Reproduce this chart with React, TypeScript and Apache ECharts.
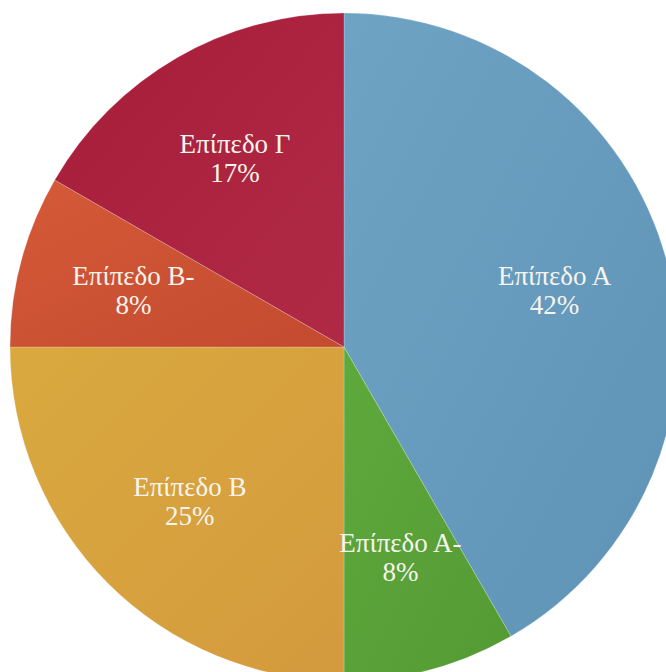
import React, { useEffect, useRef } from "react";
import * as echarts from "echarts";

const categories = ["Επίπεδο Α", "Επίπεδο Α-", "Επίπεδο Β", "Επίπεδο Β-", "Επίπεδο Γ"];
const values = [5, 1, 3, 1, 2];
const colorsTop = ["#6fa3c4", "#5ea93c", "#d9a93e", "#d45a38", "#a71d3a"];
const colorsBottom = ["#5f93b6", "#549a34", "#d49a3e", "#c44a30", "#b02a46"];

export default function App() {
  const ref = useRef<HTMLDivElement>(null);
  useEffect(() => {
    if (!ref.current) return;
    const chart = echarts.init(ref.current, undefined, { renderer: "svg" });
    const data = categories.map((name, i) => ({
      name,
      value: values[i],
      itemStyle: {
        color: new echarts.graphic.LinearGradient(0, 0, 1, 1, [
          { offset: 0, color: colorsTop[i] },
          { offset: 1, color: colorsBottom[i] },
        ]),
      },
    }));
    const labelData = categories.map((name, i) => ({ name, value: values[i] }));
    chart.setOption({
      animation: false,
      backgroundColor: "#ffffff",
      series: [
        {
          type: "pie",
          center: [344, 347],
          radius: [0, 334],
          startAngle: 90,
          clockwise: true,
          silent: true,
          label: { show: false },
          labelLine: { show: false },
          itemStyle: { borderColor: "rgba(255,255,255,0.35)", borderWidth: 0.6 },
          data,
        },
        {
          type: "pie",
          center: [344, 347],
          radius: [96, 334],
          startAngle: 90,
          clockwise: true,
          silent: true,
          itemStyle: { color: "rgba(0,0,0,0)", borderWidth: 0 },
          labelLine: { show: false },
          label: {
            show: true,
            position: "inside",
            formatter: (p: any) => `${p.name}\n${Math.round(p.percent)}%`,
            color: "#f7f4ee",
            fontFamily: "'Liberation Serif', 'DejaVu Serif', serif",
            fontSize: 27,
            lineHeight: 29,
            align: "center",
          },
          data: labelData,
        },
      ],
    });
    return () => chart.dispose();
  }, []);
  return (
    <div
      ref={ref}
      style={{ position: "fixed", left: 0, top: 0, width: 666, height: 672 }}
    />
  );
}
